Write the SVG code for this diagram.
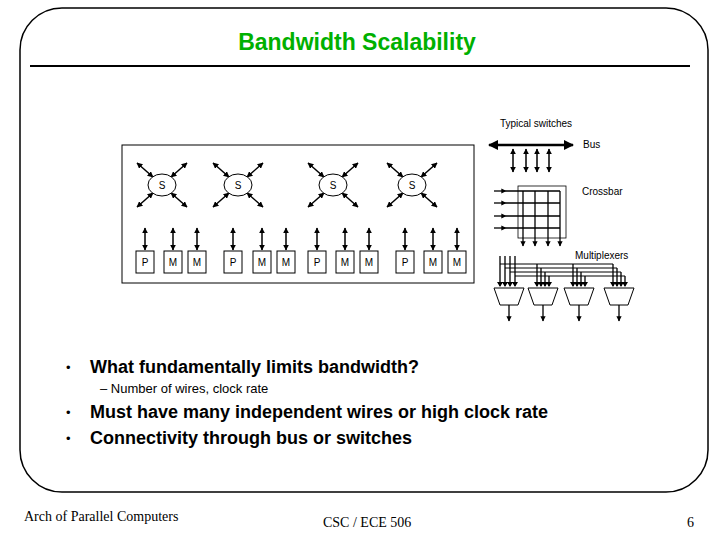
<svg xmlns="http://www.w3.org/2000/svg" width="720" height="540" viewBox="0 0 720 540">
<defs>
<marker id="a" viewBox="0 0 10 10" refX="9" refY="5" markerWidth="4" markerHeight="4" orient="auto-start-reverse"><path d="M0,0L10,5L0,10z" fill="#000"/></marker>
<style>
.l{stroke:#000;stroke-width:1.3;fill:none}
.d{stroke:#000;stroke-width:1.5;marker-start:url(#a);marker-end:url(#a)}
.o{stroke:#000;stroke-width:1.3;marker-end:url(#a)}
.s{font-family:"Liberation Sans",Arial,sans-serif;font-size:10px;text-anchor:middle}
.b{font-family:"Liberation Sans",Arial,sans-serif;font-weight:bold;font-size:18px}
.bu{font-family:"Liberation Sans",Arial,sans-serif;font-size:13px}
.bx{fill:#fff;stroke:#000;stroke-width:1}
</style>
</defs>
<rect width="720" height="540" fill="#fff"/>
<rect x="20" y="8" width="688" height="484" rx="42" fill="none" stroke="#000" stroke-width="1.5"/>
<text x="357" y="50" font-family="Liberation Sans,Arial,sans-serif" font-weight="bold" font-size="23" fill="#00b000" text-anchor="middle">Bandwidth Scalability</text>
<line x1="30" y1="66" x2="690" y2="66" stroke="#000" stroke-width="2"/>
<g id="system">
<rect x="122" y="145" width="352" height="138" class="bx" stroke-width="1.5"/>
<g id="switches">
<g transform="translate(162,185)"><line x1="-9" y1="-8" x2="-25" y2="-22" class="d"/><line x1="9" y1="-8" x2="25" y2="-22" class="d"/><line x1="-9" y1="8" x2="-25" y2="22" class="d"/><line x1="9" y1="8" x2="25" y2="22" class="d"/><ellipse rx="14" ry="11" class="bx"/><text y="4" class="s">S</text></g>
<g transform="translate(238,185)"><line x1="-9" y1="-8" x2="-25" y2="-22" class="d"/><line x1="9" y1="-8" x2="25" y2="-22" class="d"/><line x1="-9" y1="8" x2="-25" y2="22" class="d"/><line x1="9" y1="8" x2="25" y2="22" class="d"/><ellipse rx="14" ry="11" class="bx"/><text y="4" class="s">S</text></g>
<g transform="translate(333,185)"><line x1="-9" y1="-8" x2="-25" y2="-22" class="d"/><line x1="9" y1="-8" x2="25" y2="-22" class="d"/><line x1="-9" y1="8" x2="-25" y2="22" class="d"/><line x1="9" y1="8" x2="25" y2="22" class="d"/><ellipse rx="14" ry="11" class="bx"/><text y="4" class="s">S</text></g>
<g transform="translate(412,185)"><line x1="-9" y1="-8" x2="-25" y2="-22" class="d"/><line x1="9" y1="-8" x2="25" y2="-22" class="d"/><line x1="-9" y1="8" x2="-25" y2="22" class="d"/><line x1="9" y1="8" x2="25" y2="22" class="d"/><ellipse rx="14" ry="11" class="bx"/><text y="4" class="s">S</text></g>
</g>
<g id="nodes">
<g transform="translate(145,0)"><line x1="0" y1="228" x2="0" y2="250" class="d"/><rect x="-9" y="251" width="18" height="22" class="bx"/><text y="266" class="s">P</text></g>
<g transform="translate(173,0)"><line x1="0" y1="228" x2="0" y2="250" class="d"/><rect x="-9" y="251" width="18" height="22" class="bx"/><text y="266" class="s">M</text></g>
<g transform="translate(197,0)"><line x1="0" y1="228" x2="0" y2="250" class="d"/><rect x="-9" y="251" width="18" height="22" class="bx"/><text y="266" class="s">M</text></g>
<g transform="translate(233,0)"><line x1="0" y1="228" x2="0" y2="250" class="d"/><rect x="-9" y="251" width="18" height="22" class="bx"/><text y="266" class="s">P</text></g>
<g transform="translate(262,0)"><line x1="0" y1="228" x2="0" y2="250" class="d"/><rect x="-9" y="251" width="18" height="22" class="bx"/><text y="266" class="s">M</text></g>
<g transform="translate(286,0)"><line x1="0" y1="228" x2="0" y2="250" class="d"/><rect x="-9" y="251" width="18" height="22" class="bx"/><text y="266" class="s">M</text></g>
<g transform="translate(317,0)"><line x1="0" y1="228" x2="0" y2="250" class="d"/><rect x="-9" y="251" width="18" height="22" class="bx"/><text y="266" class="s">P</text></g>
<g transform="translate(345,0)"><line x1="0" y1="228" x2="0" y2="250" class="d"/><rect x="-9" y="251" width="18" height="22" class="bx"/><text y="266" class="s">M</text></g>
<g transform="translate(369,0)"><line x1="0" y1="228" x2="0" y2="250" class="d"/><rect x="-9" y="251" width="18" height="22" class="bx"/><text y="266" class="s">M</text></g>
<g transform="translate(405,0)"><line x1="0" y1="228" x2="0" y2="250" class="d"/><rect x="-9" y="251" width="18" height="22" class="bx"/><text y="266" class="s">P</text></g>
<g transform="translate(433,0)"><line x1="0" y1="228" x2="0" y2="250" class="d"/><rect x="-9" y="251" width="18" height="22" class="bx"/><text y="266" class="s">M</text></g>
<g transform="translate(457,0)"><line x1="0" y1="228" x2="0" y2="250" class="d"/><rect x="-9" y="251" width="18" height="22" class="bx"/><text y="266" class="s">M</text></g>
</g>
</g>
<g id="switchtypes">
<text x="536" y="127" class="s">Typical switches</text>
<g id="bus">
<line x1="489" y1="145" x2="573" y2="145" stroke="#000" stroke-width="2.5" marker-start="url(#a)" marker-end="url(#a)"/>
<line x1="513" y1="149" x2="513" y2="172" class="d"/><line x1="526" y1="149" x2="526" y2="172" class="d"/><line x1="537" y1="149" x2="537" y2="172" class="d"/><line x1="549" y1="149" x2="549" y2="172" class="d"/>
<text x="583" y="148" class="s" style="text-anchor:start">Bus</text>
</g>
<g id="crossbar">
<rect x="518" y="186" width="48" height="52" fill="none" stroke="#000" stroke-width="0.8"/>
<line x1="494" y1="191" x2="506" y2="191" class="o"/><line x1="494" y1="203" x2="506" y2="203" class="o"/><line x1="494" y1="216" x2="506" y2="216" class="o"/><line x1="494" y1="228" x2="506" y2="228" class="o"/>
<path d="M506,191H560M506,203H560M506,216H560M506,228H560" class="l"/>
<line x1="523" y1="191" x2="523" y2="246" class="o"/><line x1="535" y1="191" x2="535" y2="246" class="o"/><line x1="548" y1="191" x2="548" y2="246" class="o"/><line x1="560" y1="191" x2="560" y2="246" class="o"/>
<text x="582" y="195" class="s" style="text-anchor:start">Crossbar</text>
</g>
<g id="mux">
<text x="575" y="259" class="s" style="text-anchor:start">Multiplexers</text>
<path d="M500,256V286M505,256V286M510,256V286M515,256V286" class="l"/>
<path d="M500,264H613M505,268H617M510,272H621M515,276H625" stroke="#000" stroke-width="1" fill="none"/>
<path d="M537,264V286M541,268V286M545,272V286M549,276V286 M573,264V286M577,268V286M581,272V286M585,276V286 M613,264V286M617,268V286M621,272V286M625,276V286" class="l"/>
<g fill="#000"><path d="M497,282h6l-3,5z M502,282h6l-3,5z M507,282h6l-3,5z M512,282h6l-3,5z M534,282h6l-3,5z M538,282h6l-3,5z M542,282h6l-3,5z M546,282h6l-3,5z M570,282h6l-3,5z M574,282h6l-3,5z M578,282h6l-3,5z M582,282h6l-3,5z M610,282h6l-3,5z M614,282h6l-3,5z M618,282h6l-3,5z M622,282h6l-3,5z"/></g>
<path d="M494,288h30l-6,17h-18z M528,288h30l-6,17h-18z M564,288h30l-6,17h-18z M604,288h30l-6,17h-18z" fill="#fff" stroke="#000" stroke-width="1"/>
<line x1="509" y1="305" x2="509" y2="321" class="o"/><line x1="543" y1="305" x2="543" y2="321" class="o"/><line x1="579" y1="305" x2="579" y2="321" class="o"/><line x1="619" y1="305" x2="619" y2="321" class="o"/>
</g>
</g>
<g id="text">
<text x="66" y="372" class="bu">•</text><text x="90" y="373" class="b">What fundamentally limits bandwidth?</text>
<text x="100" y="393" font-family="Liberation Sans,Arial,sans-serif" font-size="13">–  Number of wires, clock rate</text>
<text x="66" y="417" class="bu">•</text><text x="90" y="418" class="b">Must have many independent wires or high clock rate</text>
<text x="66" y="443" class="bu">•</text><text x="90" y="444" class="b">Connectivity through bus or switches</text>
<text x="24" y="521" font-family="Liberation Serif,Times New Roman,serif" font-size="14">Arch of Parallel Computers</text>
<text x="323" y="527" font-family="Liberation Serif,Times New Roman,serif" font-size="14">CSC / ECE 506</text>
<text x="687" y="527" font-family="Liberation Serif,Times New Roman,serif" font-size="14">6</text>
</g>
</svg>
